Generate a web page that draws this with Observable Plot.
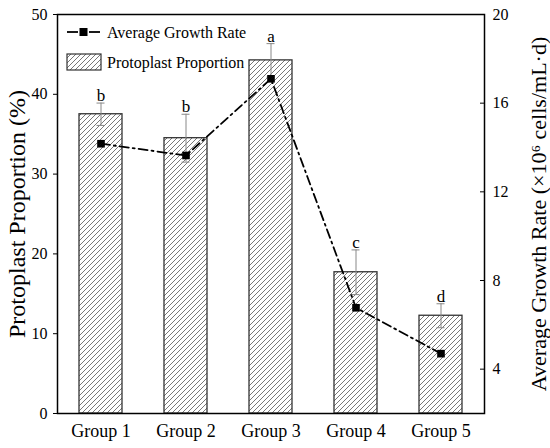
<!DOCTYPE html>
<html>
<head>
<meta charset="utf-8">
<script src="https://cdn.jsdelivr.net/npm/d3@7"></script>
<script src="https://cdn.jsdelivr.net/npm/@observablehq/plot@0.6"></script>
<style>
  html, body { margin: 0; padding: 0; background: white; }
</style>
</head>
<body>
<div id="chart"></div>
<script>
const groups = ["Group 1", "Group 2", "Group 3", "Group 4", "Group 5"];
const proportion = [37.5, 34.5, 44.25, 17.7, 12.25];
const proportionErr = [1.4, 3.0, 2.1, 2.8, 1.5];
const growthRate = [14.17, 13.64, 17.1, 6.77, 4.7];
const letters = ["b", "b", "a", "c", "d"];
const leftTicks = [0, 10, 20, 30, 40, 50];
const leftDomain = [0, 50];
const rightTicks = [4, 8, 12, 16, 20];
const rightDomain = [2, 20];

const toLeft = g => (g - rightDomain[0]) / (rightDomain[1] - rightDomain[0]) * (leftDomain[1] - leftDomain[0]) + leftDomain[0];
const fromLeft = v => (v - leftDomain[0]) / (leftDomain[1] - leftDomain[0]) * (rightDomain[1] - rightDomain[0]) + rightDomain[0];

const data = groups.map((g, i) => ({
  group: g,
  prop: proportion[i],
  lo: proportion[i] - proportionErr[i],
  hi: proportion[i] + proportionErr[i],
  growth: toLeft(growthRate[i]),
  letter: letters[i]
}));

const font = "'Liberation Serif', 'Times New Roman', serif";

const chart = Plot.plot({
  width: 550,
  height: 448,
  marginLeft: 57,
  marginRight: 66,
  marginTop: 14,
  marginBottom: 35,
  style: { fontFamily: font, fontSize: "16px", color: "black", background: "white" },
  x: { domain: groups, paddingInner: 0.5, paddingOuter: 0.25 },
  y: { domain: leftDomain },
  marks: [
    Plot.barY(data, { x: "group", y: "prop", fill: "url(#hatch)", stroke: "#333", strokeWidth: 1.3 }),
    Plot.ruleX(data, { x: "group", y1: "lo", y2: "hi", stroke: "#888", strokeWidth: 1 }),
    Plot.tickY(data, { x: "group", y: "hi", stroke: "#888", strokeWidth: 1, insetLeft: 17.5, insetRight: 17.5 }),
    Plot.tickY(data, { x: "group", y: "lo", stroke: "#888", strokeWidth: 1, insetLeft: 17.5, insetRight: 17.5 }),
    Plot.text(data, { x: "group", y: "hi", text: "letter", lineAnchor: "bottom", dy: -2, fontSize: 17, fill: "black" }),
    Plot.line(data, { x: "group", y: "growth", stroke: "black", strokeWidth: 1.8, strokeDasharray: "9,4,2,4" }),
    Plot.dot(data, { x: "group", y: "growth", symbol: "square", r: 4.3, fill: "black", stroke: "none" }),
    Plot.frame({ stroke: "black", strokeWidth: 1.5 }),
    Plot.axisX({ tickSize: 0, tickPadding: 11, fontSize: 18, label: null }),
    Plot.axisY({
      anchor: "left", ticks: leftTicks, tickSize: 4, tickPadding: 6,
      label: "Protoplast Proportion (%)", labelAnchor: "center", labelArrow: "none",
      labelOffset: 50, fontSize: 16
    }),
    Plot.axisY({
      anchor: "right", ticks: rightTicks.map(toLeft), tickFormat: d => String(Math.round(fromLeft(d))),
      tickSize: -5, tickPadding: 13,
      label: "Average Growth Rate (×10⁶ cells/mL·d)", labelAnchor: "center", labelArrow: "none",
      labelOffset: 61, fontSize: 16
    })
  ]
});

const labelGroups = chart.querySelectorAll("[aria-label='y-axis label']");
labelGroups.forEach((g, i) => {
  const size = i === 0 ? "24" : "22";
  g.setAttribute("font-size", size);
  g.querySelectorAll("text").forEach(t => t.setAttribute("font-size", size));
});

chart.insertAdjacentHTML("afterbegin",
  `<defs><pattern id="hatch" patternUnits="userSpaceOnUse" width="5" height="5">
     <path d="M-1,1 l2,-2 M0,5 l5,-5 M4,6 l2,-2" stroke="#555" stroke-width="0.8"/>
   </pattern></defs>`);

// Legend (inside plot area, top-left)
const svg = d3.select(chart);
const lg = svg.append("g").attr("font-family", font).attr("font-size", 16).attr("fill", "black").attr("text-anchor", "start");
lg.append("line").attr("x1", 67).attr("x2", 78).attr("y1", 32).attr("y2", 32).attr("stroke", "black").attr("stroke-width", 1.8);
lg.append("line").attr("x1", 89).attr("x2", 100).attr("y1", 32).attr("y2", 32).attr("stroke", "black").attr("stroke-width", 1.8);
lg.append("rect").attr("x", 79.5).attr("y", 28).attr("width", 8).attr("height", 8).attr("fill", "black");
lg.append("text").attr("x", 107).attr("y", 37.5).text("Average Growth Rate");
lg.append("rect").attr("x", 67).attr("y", 54).attr("width", 34).attr("height", 16).attr("fill", "url(#hatch)").attr("stroke", "#333").attr("stroke-width", 1.2);
lg.append("text").attr("x", 107).attr("y", 67.5).text("Protoplast Proportion");

document.getElementById("chart").appendChild(chart);
</script>
</body>
</html>
